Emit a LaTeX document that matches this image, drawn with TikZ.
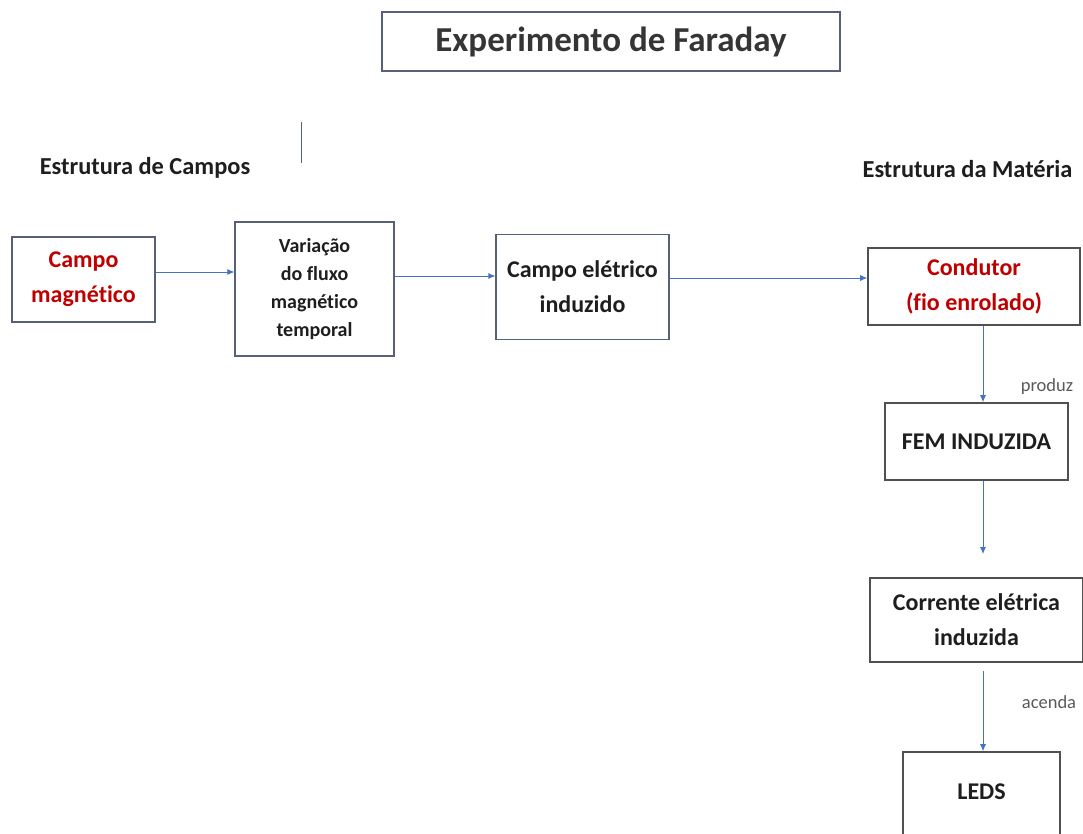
\documentclass[tikz,border=0pt]{standalone}
\usepackage{fontspec}
\setmainfont{Carlito}[Ligatures=CommonOff]
\usetikzlibrary{arrows.meta,calc}
\definecolor{boxline}{HTML}{56607A}
\definecolor{boxdark}{HTML}{505050}
\definecolor{arrowblue}{HTML}{4472C4}
\definecolor{redtext}{HTML}{C00000}
\definecolor{txt}{HTML}{1E1E1E}
\begin{document}
\begin{tikzpicture}[x=1pt,y=-1pt,
  box/.style={draw=boxline,line width=1.3pt,rectangle,align=center,font=\fontsize{24}{35}\selectfont\bfseries,text=txt,inner sep=0pt},
  darkbox/.style={box,draw=boxdark,line width=1.6pt},
  flow/.style={draw=arrowblue,line width=0.8pt,-{Latex[length=7pt,width=6pt]}},
  heading/.style={font=\fontsize{24.4}{28}\selectfont\bfseries,text=txt},
  note/.style={font=\fontsize{18.5}{22}\selectfont,text=black!65}]
\useasboundingbox (0,0) rectangle (1083,834);
% title
\node[box,minimum width=458pt,minimum height=59pt,font=\fontsize{35}{40}\selectfont\bfseries,text=txt!90] (title) at (611,41.5) {Experimento de Faraday};
\draw[boxline,line width=0.8pt] (301,122) -- (301,163);
% section headings
\node[heading] (hcampos) at (145,168) {Estrutura de Campos};
\node[heading] (hmateria) at (967.5,169) {Estrutura da Matéria};
% field chain
\node[box,minimum width=143pt,minimum height=85pt,text=redtext] (campo) at (83.5,279.5) {Campo\\magnético};
\node[box,minimum width=159pt,minimum height=134pt,font=\fontsize{20}{28}\selectfont\bfseries] (var) at (314.5,289) {Variação\\do fluxo\\magnético\\temporal};
\node[box,minimum width=173pt,minimum height=105pt] (cel) at (582.5,287) {Campo elétrico\\induzido};
% matter chain
\node[darkbox,minimum width=212pt,minimum height=77pt,text=redtext] (cond) at (974,286.5) {Condutor\\(fio enrolado)};
\node[darkbox,minimum width=183pt,minimum height=77pt] (fem) at (976.5,441.5) {FEM INDUZIDA};
\node[darkbox,minimum width=213pt,minimum height=84pt] (corr) at (976.5,620) {Corrente elétrica\\induzida};
\node[darkbox,minimum width=157pt,minimum height=90pt] (leds) at (981.5,797) {};
\node[font=\fontsize{24}{28}\selectfont\bfseries,text=txt] (ledstext) at (981.5,792) {LEDS};
% connectors
\draw[flow] (campo.east |- 0,272) -- (var.west |- 0,272);
\draw[flow] (var.east |- 0,276) -- (cel.west |- 0,276);
\draw[flow] (cel.east |- 0,278) -- (cond.west |- 0,278);
\coordinate (c1) at (983,325);
\coordinate (c2) at (983,554);
\coordinate (c3) at (983,671);
\draw[flow] (cond.south -| c1) -- (fem.north -| c1);
\draw[flow] (fem.south -| c1) -- (c2);
\draw[flow] (c3) -- (leds.north -| c3);
\node[note] (produz) at (1047,387) {produz};
\node[note] (acenda) at (1049,702) {acenda};
\end{tikzpicture}
\end{document}
